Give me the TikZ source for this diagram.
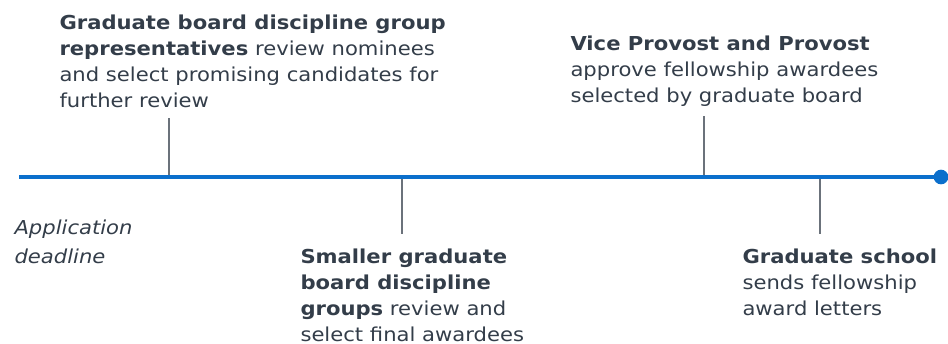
\documentclass[tikz,border=0pt]{standalone}
\usepackage{fontspec}
\setmainfont{DejaVu Sans}[FakeStretch=1.1]
\definecolor{timeblue}{HTML}{0B6FCC}
\definecolor{tickgray}{HTML}{6B727B}
\definecolor{slate}{HTML}{333D49}

\tikzset{every picture/.style={line width=0.75pt}}
\tikzset{
  stage/.style={anchor=north west, inner sep=0pt, align=left, text=slate,
    font=\fontsize{14.4}{19.5}\selectfont},
  tickmark/.style={draw=tickgray, line width=1.6pt},
  enddot/.style={circle, fill=timeblue, inner sep=0pt, minimum size=11pt},
}

\begin{document}
\begin{tikzpicture}[x=0.75pt,y=0.75pt,yscale=-1,xscale=1]
		\useasboundingbox (0,0) rectangle (948,343);

		% Points on the timeline
		\coordinate (start) at (19,177);
		\coordinate (t1) at (169,177);
		\coordinate (t2) at (402,177);
		\coordinate (t3) at (704,177);
		\coordinate (t4) at (820,177);
		% Free ends of the tick marks
		\coordinate (t1end) at (169,118);
		\coordinate (t2end) at (402,234);
		\coordinate (t3end) at (704,116);
		\coordinate (t4end) at (820,234);

		% Tick marks
		\draw[tickmark] (t1) -- (t1end);
		\draw[tickmark] (t2) -- (t2end);
		\draw[tickmark] (t3) -- (t3end);
		\draw[tickmark] (t4) -- (t4end);

		% Timeline
		\node[enddot] (stop) at (941,177) {};
		\draw[timeblue, line width=3pt] (start) -- (stop.center);

		% Text Node
		\node[stage] (reps) at (59,14.5) {\textbf{Graduate board discipline group}\\\textbf{representatives} review nominees\\and select promising candidates for\\further review};
		% Text Node
		\node[stage] (provost) at (570,35.5) {\textbf{Vice Provost and Provost}\\approve fellowship awardees\\selected by graduate board};
		% Text Node
		\node[stage, font=\fontsize{14.4}{21.75}\selectfont\itshape] (deadline) at (14,219.5) {Application\\deadline};
		% Text Node
		\node[stage] (groups) at (300,248.5) {\textbf{Smaller graduate}\\\textbf{board discipline}\\\textbf{groups} review and\\select final awardees};
		% Text Node
		\node[stage] (school) at (742,248.5) {\textbf{Graduate school}\\sends fellowship\\award letters};

\end{tikzpicture}
\end{document}
